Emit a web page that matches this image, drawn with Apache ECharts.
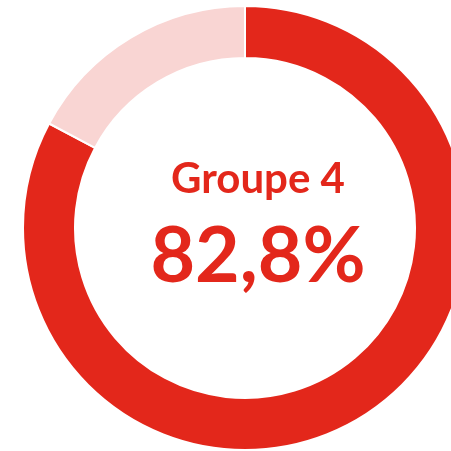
<!DOCTYPE html>
<html>
<head>
<meta charset="utf-8">
<script src="https://cdn.jsdelivr.net/npm/echarts@6/dist/echarts.min.js"></script>
<style>
    html, body { margin: 0; padding: 0; background: #fff; }
    #chart { width: 451px; height: 451px; }
</style>
</head>
<body>
<div id="chart"></div>
<script>
    // donut data
    var categories = ['Groupe 4', 'Reste'];
    var values = [82.8, 17.2];
    var colors = ['#e3271b', '#f9d5d3'];
    var groupLabel = 'Groupe 4';
    var valueLabel = '82,8%';

    var chart = echarts.init(document.getElementById('chart'));

    var option = {
        animation: false,
        title: [
            {
                text: groupLabel,
                left: 253,
                top: 153,
                textAlign: 'center',
                textStyle: {fontFamily: 'Lato', fontWeight: 'bold', fontSize: 42, color: '#e3271b'}
            },
            {
                text: valueLabel,
                left: 253,
                top: 214,
                textAlign: 'center',
                textStyle: {fontFamily: 'Lato', fontWeight: 'bold', fontSize: 77, color: '#e3271b'}
            }
        ],
        series: [
            {
                type: 'pie',
                center: [245, 228],
                radius: [170, 222],
                startAngle: 90,
                clockwise: true,
                silent: true,
                label: {show: false},
                labelLine: {show: false},
                itemStyle: {borderColor: '#fff', borderWidth: 2},
                data: categories.map(function (c, i) {
                    return {name: c, value: values[i], itemStyle: {color: colors[i]}};
                })
            }
        ]
    };
    chart.setOption(option);
</script>
</body>
</html>
